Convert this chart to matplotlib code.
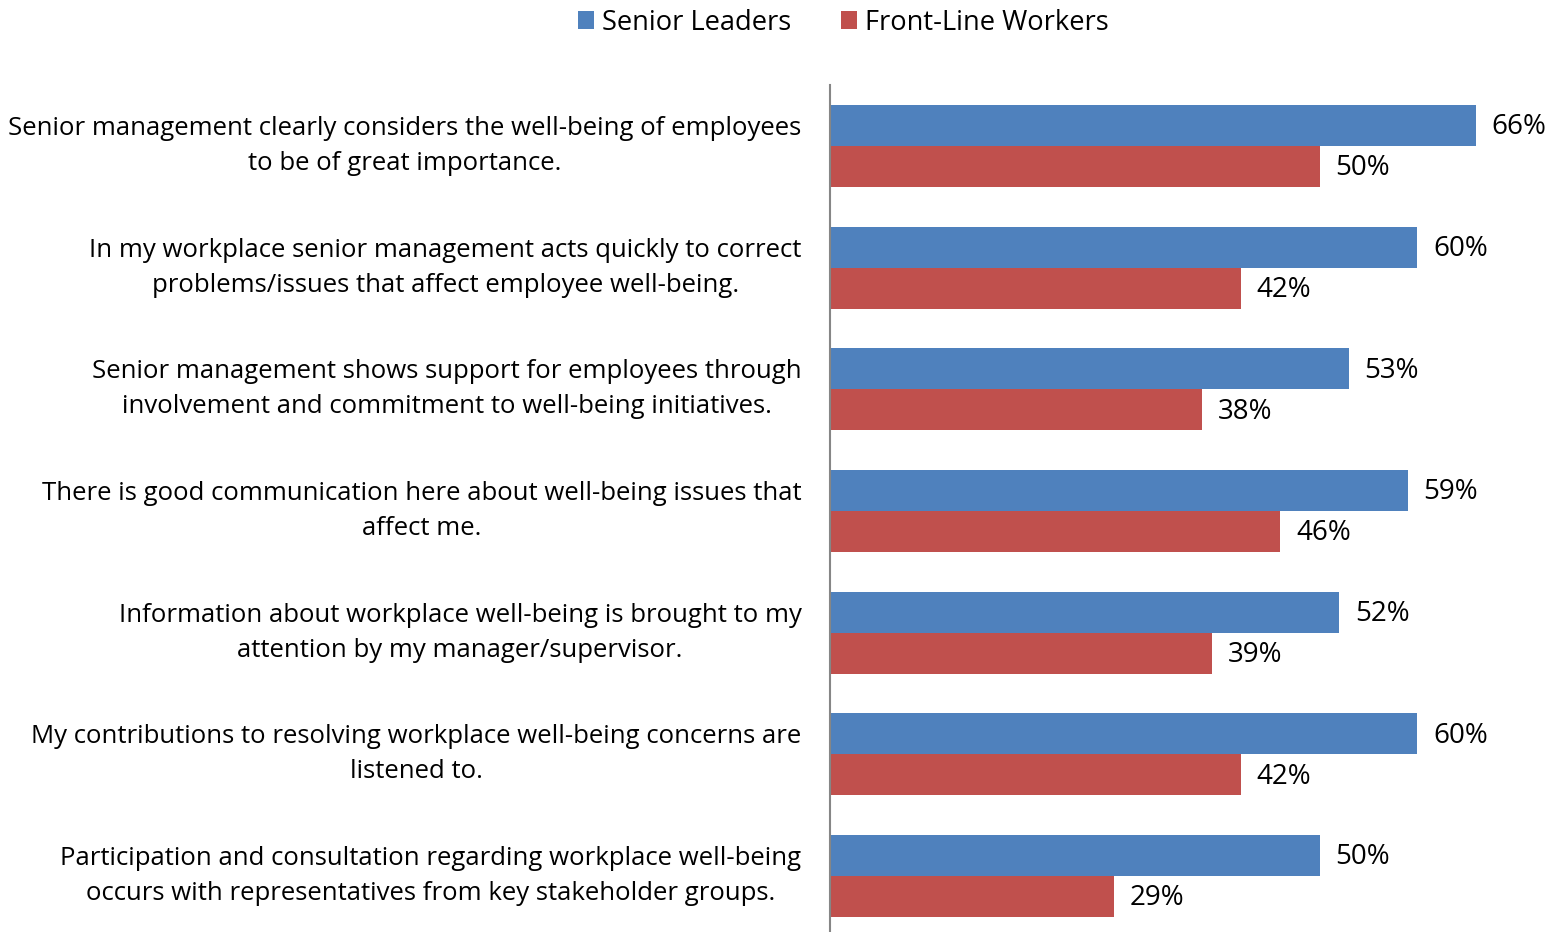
import matplotlib.pyplot as plt
import numpy as np

plt.rcParams['font.family'] = ['Open Sans', 'DejaVu Sans']

# statements (top to bottom)
categories = [
    "Senior management clearly considers the well-being of employees\nto be of great importance.",
    "In my workplace senior management acts quickly to correct\nproblems/issues that affect employee well-being.",
    "Senior management shows support for employees through\ninvolvement and commitment to well-being initiatives.",
    "There is good communication here about well-being issues that\naffect me.",
    "Information about workplace well-being is brought to my\nattention by my manager/supervisor.",
    "My contributions to resolving workplace well-being concerns are\nlistened to.",
    "Participation and consultation regarding workplace well-being\noccurs with representatives from key stakeholder groups.",
]
senior_leaders = [66, 60, 53, 59, 52, 60, 50]
front_line = [50, 42, 38, 46, 39, 42, 29]

blue = '#4F81BD'
red = '#C0504D'

fig = plt.figure(figsize=(15.56, 9.32), dpi=100)
ax = fig.add_axes([830 / 1556, -5 / 932, 726 / 1556, 852 / 932])

y = np.arange(len(categories))
h = 41 / 121.7
ax.barh(y - h / 2, senior_leaders, height=h, color=blue, label='Senior Leaders')
ax.barh(y + h / 2, front_line, height=h, color=red, label='Front-Line Workers')

for i in range(len(categories)):
    ax.text(senior_leaders[i] + 1.6, y[i] - h / 2 + 0.015, f'{senior_leaders[i]}%',
            va='center', ha='left', fontsize=20)
    ax.text(front_line[i] + 1.6, y[i] + h / 2 + 0.015, f'{front_line[i]}%',
            va='center', ha='left', fontsize=20)
    ax.text(-2.9, y[i], categories[i], ha='right', va='center',
            multialignment='center', fontsize=18.55, linespacing=1.53)

ax.set_xlim(0, 726 / 9.79)
ax.set_ylim(len(categories) - 0.5, -0.5)
ax.set_xticks([])
ax.set_yticks([])
for s in ['top', 'right', 'bottom']:
    ax.spines[s].set_visible(False)
ax.spines['left'].set_color('#868686')
ax.spines['left'].set_linewidth(1.5)

fig.legend(loc='upper center', bbox_to_anchor=(0.542, 1.017), ncol=2, frameon=False,
           fontsize=19.6, handlelength=0.6, handleheight=0.6, handletextpad=0.3,
           columnspacing=1.8)

fig.savefig('out.png', dpi=100)
